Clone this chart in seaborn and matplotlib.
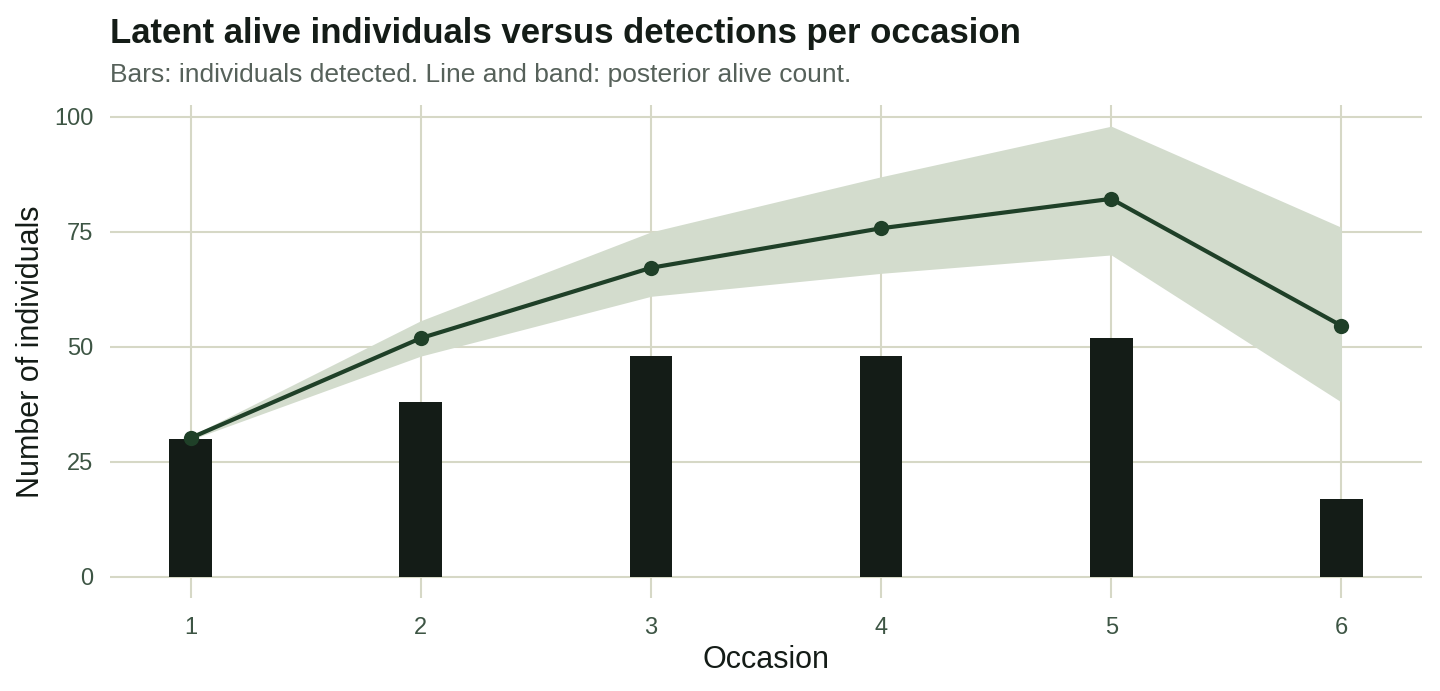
import numpy as np
import pandas as pd
import matplotlib
matplotlib.use("Agg")
import matplotlib.pyplot as plt
import seaborn as sns

# values
occasions = [1, 2, 3, 4, 5, 6]
detected = [30, 38, 48, 48, 52, 17]
alive_mean = [30.2, 51.9, 67.2, 75.8, 82.2, 54.6]
alive_low = [29.8, 48, 61, 66, 70, 38]
alive_high = [30.6, 55.7, 75, 87, 98, 76]
y_ticks = [0, 25, 50, 75, 100]

df = pd.DataFrame({"occasion": occasions, "detected": detected,
                   "mean": alive_mean, "low": alive_low, "high": alive_high})

sns.set_style("white")
plt.rcParams["font.family"] = ["Liberation Sans", "DejaVu Sans"]

bar_col = "#141c17"
line_col = "#1f4028"
band_col = "#d3dccd"
grid_col = "#d6d8c6"
tick_col = "#3d5544"

fig = plt.figure(figsize=(14.4, 6.91), dpi=100)
ax = fig.add_axes([0.0764, 0.1346, 0.9111, 0.7134])

# band behind everything
ax.fill_between(df["occasion"], df["low"], df["high"], color=band_col, lw=0, zorder=1)

# detections as bars
sns.barplot(data=df, x="occasion", y="detected", native_scale=True, width=0.185,
            color=bar_col, saturation=1, linewidth=0, ax=ax, zorder=2)

# posterior alive count line
sns.lineplot(data=df, x="occasion", y="mean", color=line_col, lw=3, marker="o",
             markersize=11, markeredgewidth=0, ax=ax, zorder=3)

ax.set_xlim(0.65, 6.35)
ax.set_ylim(-4.6, 102.6)
ax.set_xticks(occasions)
ax.set_xticklabels([str(o) for o in occasions])
ax.set_yticks(y_ticks)
ax.grid(True, color=grid_col, lw=1.5, zorder=0)
ax.set_axisbelow(True)
sns.despine(ax=ax, left=True, bottom=True)
ax.tick_params(axis="both", length=0, labelsize=17, labelcolor=tick_col)
ax.tick_params(axis="x", pad=14)
ax.tick_params(axis="y", pad=12)

ax.set_xlabel("Occasion", fontsize=22, color="#141c17", labelpad=4)
ax.set_ylabel("Number of individuals", fontsize=22, color="#141c17", labelpad=6)

fig.text(0.0764, 0.938, "Latent alive individuals versus detections per occasion",
         fontsize=25, fontweight="bold", color="#141c17", ha="left", va="baseline")
fig.text(0.0764, 0.881, "Bars: individuals detected. Line and band: posterior alive count.",
         fontsize=19, color="#56615a", ha="left", va="baseline")

plt.savefig("out.png", dpi=100)
